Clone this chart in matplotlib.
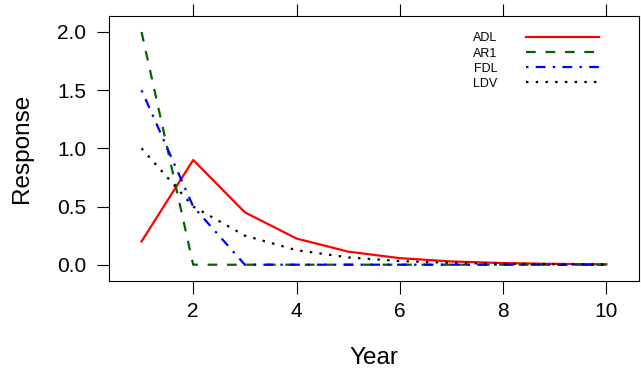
import numpy as np
import matplotlib
matplotlib.use("Agg")
import matplotlib.pyplot as plt

# ---------------------------------------------------
# DATOS
# ---------------------------------------------------
years = [1, 2, 3, 4, 5, 6, 7, 8, 9, 10]
adl = [0.2, 0.9, 0.45, 0.225, 0.1125, 0.05625, 0.028, 0.014, 0.007, 0.0035]
ar1 = [2.0, 0, 0, 0, 0, 0, 0, 0, 0, 0]
fdl = [1.5, 0.5, 0, 0, 0, 0, 0, 0, 0, 0]
ldv = [1.0, 0.5, 0.25, 0.125, 0.0625, 0.03125, 0.0156, 0.0078, 0.0039, 0.002]

x_ticks = [2, 4, 6, 8, 10]
y_ticks = [0.0, 0.5, 1.0, 1.5, 2.0]
y_tick_labels = ["0.0", "0.5", "1.0", "1.5", "2.0"]

# ---------------------------------------------------
# ESTILO
# ---------------------------------------------------
plt.rcParams['font.family'] = ['Liberation Sans', 'DejaVu Sans']
plt.rcParams['lines.scale_dashes'] = False

u = 1.75  # unidad de guiones (pt)
series = [
    ("ADL", adl, "#ff0000", "-"),
    ("AR1", ar1, "#006400", (0, (4 * u, 4 * u))),
    ("FDL", fdl, "#0000ff", (0, (1 * u, 3 * u, 4 * u, 3 * u))),
    ("LDV", ldv, "#000000", (0, (1 * u, 3 * u))),
]

fig = plt.figure(figsize=(6.41, 3.70), dpi=100)
ax = fig.add_axes([109 / 641, 1 - 281 / 370, 530 / 641, 265.3 / 370])

for name, vals, col, ls in series:
    ax.plot(years, vals, color=col, linestyle=ls, linewidth=1.6, label=name)

ax.set_xlim(0.37, 10.63)
ax.set_ylim(-0.14, 2.14)

ax.set_xticks(x_ticks)
ax.set_yticks(y_ticks)
ax.set_yticklabels(y_tick_labels)

ax.tick_params(axis='both', direction='out', length=9, width=0.8,
               labelsize=15, pad=6.0, top=True, right=False)
ax.tick_params(axis='y', pad=7.5)
for s in ax.spines.values():
    s.set_linewidth(0.8)

ax.set_xlabel("Year", fontsize=17.5, va='baseline')
ax.xaxis.set_label_coords(0.5, -0.314)
ax.set_ylabel("Response", fontsize=17.5, va='center')
ax.yaxis.set_label_coords(-0.164, 0.5)

leg = ax.legend(loc='upper left', bbox_to_anchor=(0.687, 0.937),
                frameon=False, markerfirst=False, fontsize=9,
                handlelength=5.8, handletextpad=2.3, labelspacing=0.25,
                borderpad=0, borderaxespad=0)

fig.savefig("out.png", dpi=100, facecolor='white')
plt.close(fig)
